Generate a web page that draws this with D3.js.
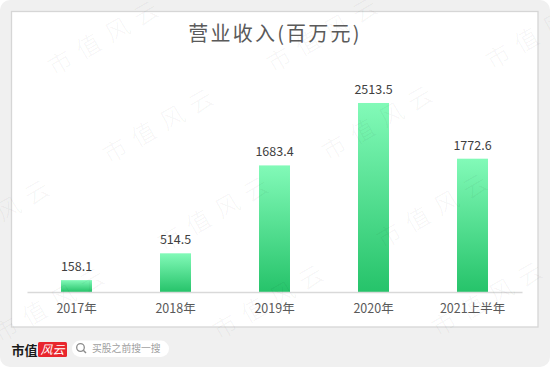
<!DOCTYPE html>
<html>
<head>
<meta charset="utf-8">
<script src="https://cdn.jsdelivr.net/npm/d3@7"></script>
<style>
html,body{margin:0;padding:0;background:#fff;}
svg{display:block;}
text{font-family:"Noto Sans CJK SC","Noto Sans",sans-serif;}
</style>
</head>
<body>
<svg id="chart" width="550" height="367"></svg>
<script>
const title = "营业收入(百万元)";
const categories = ["2017年","2018年","2019年","2020年","2021上半年"];
const values = [158.1, 514.5, 1683.4, 2513.5, 1772.6];
const valueLabels = ["158.1","514.5","1683.4","2513.5","1772.6"];
const watermarkText = "市值风云";

const svg = d3.select("#chart");
const W = 550, H = 367;

// outer grey rounded background
svg.append("rect").attr("x",0).attr("y",0).attr("width",W).attr("height",H)
  .attr("rx",10).attr("fill","#f0f0f0");

// white panel
svg.append("rect").attr("x",11.5).attr("y",11.5).attr("width",526.5).attr("height",315.5)
  .attr("fill","#ffffff").attr("stroke","#d6d6d6").attr("stroke-width",1.3);

// title
svg.append("text").attr("x",275).attr("y",41).attr("text-anchor","middle")
  .attr("font-size",20).attr("letter-spacing","2.2px").attr("fill","#5a5a5a")
  .text(title);

// scales
const x = d3.scaleBand().domain(categories).range([27,522]).paddingInner(0.687).paddingOuter(0.3435);
const y = d3.scaleLinear().domain([0,3000]).range([292,66.4]);

const defs = svg.append("defs");
const grad = defs.append("linearGradient").attr("id","barGrad")
  .attr("x1",0).attr("y1",0).attr("x2",0).attr("y2",1);
grad.append("stop").attr("offset","0%").attr("stop-color","#82fab8");
grad.append("stop").attr("offset","100%").attr("stop-color","#26c36a");

// bars
svg.append("g").selectAll("rect").data(values).join("rect")
  .attr("x",(d,i)=>x(categories[i]))
  .attr("y",d=>y(d))
  .attr("width",x.bandwidth())
  .attr("height",d=>y(0)-y(d))
  .attr("fill","url(#barGrad)");

// value labels
svg.append("g").selectAll("text").data(values).join("text")
  .attr("x",(d,i)=>x(categories[i])+x.bandwidth()/2)
  .attr("y",d=>y(d)-9)
  .attr("text-anchor","middle").attr("font-size",12.5).attr("fill","#404040")
  .text((d,i)=>valueLabels[i]);

// x axis
const xAxis = d3.axisBottom(x).tickSize(0).tickPadding(0);
const gx = svg.append("g").attr("transform","translate(0,292)").call(xAxis);
gx.select(".domain").attr("stroke","#d9d9d9").attr("stroke-width",1.3);
gx.selectAll(".tick text").attr("font-size",12.5).attr("fill","#595959")
  .attr("font-family",'"Noto Sans CJK SC","Noto Sans",sans-serif')
  .attr("dy",null).attr("y",21);

// footer logo
svg.append("text").attr("x",11.5).attr("y",355).attr("font-size",13).attr("font-weight","bold")
  .attr("fill","#1a1a1a").attr("font-family",'"Noto Serif CJK SC","Noto Sans CJK SC",serif').text("市值");
svg.append("rect").attr("x",38).attr("y",342).attr("width",29).attr("height",15).attr("rx",1.5).attr("fill","#e8262d");
svg.append("text").attr("x",52.5).attr("y",354).attr("text-anchor","middle").attr("font-size",12)
  .attr("font-style","italic").attr("fill","#ffffff").text("风云");
svg.append("rect").attr("x",72).attr("y",340.5).attr("width",97).attr("height",16.5).attr("rx",8.25).attr("fill","#ffffff");
svg.append("circle").attr("cx",80.5).attr("cy",347.5).attr("r",3.8).attr("fill","none").attr("stroke","#8c8c8c").attr("stroke-width",1.3);
svg.append("line").attr("x1",83.3).attr("y1",350.3).attr("x2",86).attr("y2",353).attr("stroke","#8c8c8c").attr("stroke-width",1.4);
svg.append("text").attr("x",92).attr("y",352).attr("font-size",9.8).attr("fill","#a0a0a0").text("买股之前搜一搜");

// watermarks
const wmCenters = [
  [107,36],[326,33],[545,30],
  [162,124],[381,121],
  [-2,215],[217,212],[436,209],
  [53,303],[272,300],[491,297]
];
svg.append("g").attr("pointer-events","none").selectAll("text").data(wmCenters).join("text")
  .attr("transform",d=>`translate(${d[0]},${d[1]}) rotate(-30)`)
  .attr("text-anchor","middle").attr("dy","0.35em")
  .attr("font-size",24).attr("letter-spacing","9px").attr("font-weight",300)
  .attr("fill","rgba(0,0,0,0.05)")
  .text(watermarkText);
</script>
</body>
</html>
